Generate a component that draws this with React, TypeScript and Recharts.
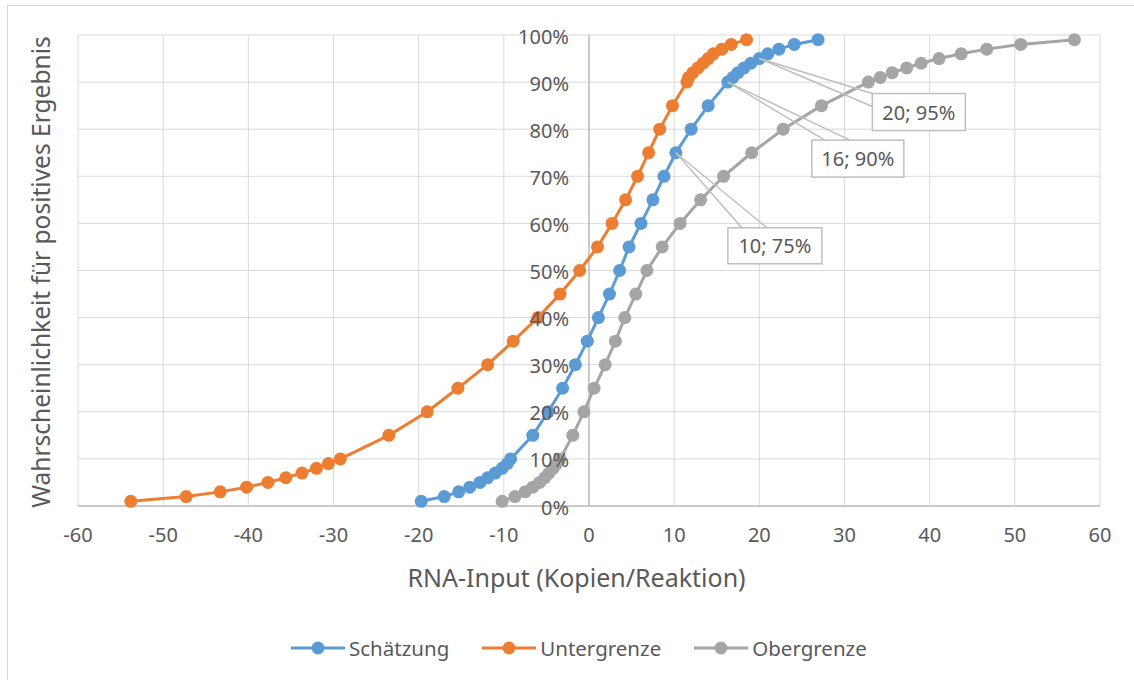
import {
  CartesianGrid,
  Line,
  LineChart,
  ReferenceDot,
  ReferenceLine,
  XAxis,
  YAxis,
} from "recharts";

// probability levels shared by all three curves
const levels = [
  0.01, 0.02, 0.03, 0.04, 0.05, 0.06, 0.07, 0.08, 0.09, 0.1, 0.15, 0.2, 0.25,
  0.3, 0.35, 0.4, 0.45, 0.5, 0.55, 0.6, 0.65, 0.7, 0.75, 0.8, 0.85, 0.9, 0.91,
  0.92, 0.93, 0.94, 0.95, 0.96, 0.97, 0.98, 0.99,
];

// RNA input (copies/reaction) at each level
const schaetzung = [
  -19.7, -17.0, -15.3, -14.0, -12.8, -11.9, -11.0, -10.2, -9.6, -9.2, -6.6,
  -4.8, -3.1, -1.6, -0.2, 1.1, 2.4, 3.6, 4.7, 6.1, 7.5, 8.8, 10.2, 12.0, 14.0,
  16.3, 16.9, 17.5, 18.2, 19.0, 20.0, 21.0, 22.3, 24.1, 26.9,
];
const untergrenze = [
  -53.8, -47.3, -43.3, -40.2, -37.7, -35.6, -33.7, -32.0, -30.6, -29.2, -23.5,
  -19.0, -15.4, -11.9, -8.9, -6.0, -3.4, -1.1, 1.0, 2.7, 4.3, 5.7, 7.0, 8.3,
  9.8, 11.5, 11.7, 12.2, 12.8, 13.4, 14.0, 14.6, 15.6, 16.7, 18.5,
];
const obergrenze = [
  -10.2, -8.7, -7.5, -6.6, -5.8, -5.2, -4.7, -4.2, -3.8, -3.4, -1.9, -0.6, 0.6,
  1.9, 3.1, 4.2, 5.5, 6.8, 8.6, 10.7, 13.1, 15.8, 19.1, 22.8, 27.3, 32.8, 34.2,
  35.6, 37.3, 39.0, 41.1, 43.7, 46.7, 50.7, 57.0,
];

const xTicks = [-60, -50, -40, -30, -20, -10, 0, 10, 20, 30, 40, 50, 60];
const yTicks = [0, 0.1, 0.2, 0.3, 0.4, 0.5, 0.6, 0.7, 0.8, 0.9, 1];

const calloutX = [10.2, 16.3, 20.0];
const calloutY = [0.75, 0.9, 0.95];
const calloutText = ["10; 75%", "16; 90%", "20; 95%"];

const seriesNames = ["Schätzung", "Untergrenze", "Obergrenze"];
const seriesColors = ["#5b9bd5", "#ed7d31", "#a5a5a5"];

const toPoints = (xs: number[]) => xs.map((x, i) => ({ x, y: levels[i] }));
const seriesData = [schaetzung, untergrenze, obergrenze].map(toPoints);

// callout box offsets relative to the data point (pixels)
const calloutLayout = [
  { bx: 52, by: 75, w: 94, h: 36, p1: [66, 75], p2: [91, 75] },
  { bx: 84, by: 58, w: 92, h: 37, p1: [97, 58], p2: [122, 58] },
  { bx: 113, by: 35, w: 93, h: 37, p1: [113, 35], p2: [113, 48] },
];

const FONT = "'Noto Sans', 'Open Sans', sans-serif";
const TEXT = "#595959";

// eslint-disable-next-line @typescript-eslint/no-explicit-any
function Callout(props: any) {
  const { cx, cy, idx } = props;
  const l = calloutLayout[idx];
  return (
    <g>
      <line x1={cx} y1={cy} x2={cx + l.p1[0]} y2={cy + l.p1[1]} stroke="#bfbfbf" strokeWidth={1.5} />
      <line x1={cx} y1={cy} x2={cx + l.p2[0]} y2={cy + l.p2[1]} stroke="#bfbfbf" strokeWidth={1.5} />
      <rect x={cx + l.bx} y={cy + l.by} width={l.w} height={l.h} fill="#fff" stroke="#bfbfbf" strokeWidth={1.5} />
      <text
        x={cx + l.bx + l.w / 2}
        y={cy + l.by + l.h / 2}
        textAnchor="middle"
        dominantBaseline="central"
        fontSize={20}
        fontFamily={FONT}
        fill={TEXT}
      >
        {calloutText[idx]}
      </text>
    </g>
  );
}

export default function App() {
  return (
    <div
      style={{
        position: "absolute",
        left: 0,
        top: 0,
        width: 1134,
        height: 680,
        overflow: "hidden",
        background: "#fff",
        fontFamily: FONT,
      }}
    >
      <div
        style={{
          position: "absolute",
          left: 7,
          top: 5,
          width: 1200,
          height: 700,
          border: "1px solid #d9d9d9",
        }}
      />
      <div style={{ position: "absolute", left: 0, top: 0 }}>
        <LineChart width={1134} height={680} margin={{ top: 35, right: 34, left: 78, bottom: 134 }}>
          <CartesianGrid stroke="#d9d9d9" strokeWidth={1} />
          <XAxis
            type="number"
            dataKey="x"
            domain={[-60, 60]}
            ticks={xTicks}
            allowDataOverflow
            axisLine={{ stroke: "#bfbfbf", strokeWidth: 1.5 }}
            tickLine={false}
            tickMargin={16}
            height={40}
            tick={{ fill: TEXT, fontSize: 20, fontFamily: FONT }}
          />
          <YAxis type="number" dataKey="y" domain={[0, 1]} ticks={yTicks} hide />
          <ReferenceLine x={0} stroke="#bfbfbf" strokeWidth={1.5} />
          {seriesData.map((d, i) => (
            <Line
              key={seriesNames[i]}
              data={d}
              dataKey="y"
              name={seriesNames[i]}
              type="linear"
              stroke={seriesColors[i]}
              strokeWidth={3}
              dot={{ r: 6.5, fill: seriesColors[i], stroke: seriesColors[i], strokeWidth: 0 }}
              activeDot={false}
              isAnimationActive={false}
            />
          ))}
          {yTicks.map((t) => (
            <ReferenceDot
              key={"yt" + t}
              x={0}
              y={t}
              r={0}
              ifOverflow="visible"
              // eslint-disable-next-line @typescript-eslint/no-explicit-any
              shape={(p: any) => (
                <text
                  x={p.cx - 20}
                  y={p.cy + 1}
                  textAnchor="end"
                  dominantBaseline="central"
                  fontSize={20}
                  fontFamily={FONT}
                  fill={TEXT}
                >
                  {Math.round(t * 100) + "%"}
                </text>
              )}
            />
          ))}
          {calloutX.map((x, i) => (
            <ReferenceDot
              key={"c" + i}
              x={x}
              y={calloutY[i]}
              r={0}
              ifOverflow="visible"
              // eslint-disable-next-line @typescript-eslint/no-explicit-any
              shape={(p: any) => <Callout {...p} idx={i} />}
            />
          ))}
        </LineChart>
      </div>
      <div
        style={{
          position: "absolute",
          left: 0,
          width: 1153,
          top: 560,
          textAlign: "center",
          fontSize: 25,
          color: TEXT,
        }}
      >
        RNA-Input (Kopien/Reaktion)
      </div>
      <div
        style={{
          position: "absolute",
          left: 40,
          top: 272,
          transform: "translate(-50%, -50%) rotate(-90deg)",
          whiteSpace: "nowrap",
          fontSize: 24.5,
          color: TEXT,
        }}
      >
        Wahrscheinlichkeit für positives Ergebnis
      </div>
      <div
        style={{
          position: "absolute",
          left: 291,
          top: 634,
          display: "flex",
          alignItems: "center",
          fontSize: 20.5,
          color: TEXT,
        }}
      >
        {seriesNames.map((n, i) => (
          <div key={n} style={{ display: "flex", alignItems: "center", marginRight: 33 }}>
            <svg width={54} height={16}>
              <line x1={0} y1={8} x2={54} y2={8} stroke={seriesColors[i]} strokeWidth={3} />
              <circle cx={27} cy={8} r={6.5} fill={seriesColors[i]} />
            </svg>
            <span style={{ marginLeft: 4 }}>{n}</span>
          </div>
        ))}
      </div>
    </div>
  );
}
